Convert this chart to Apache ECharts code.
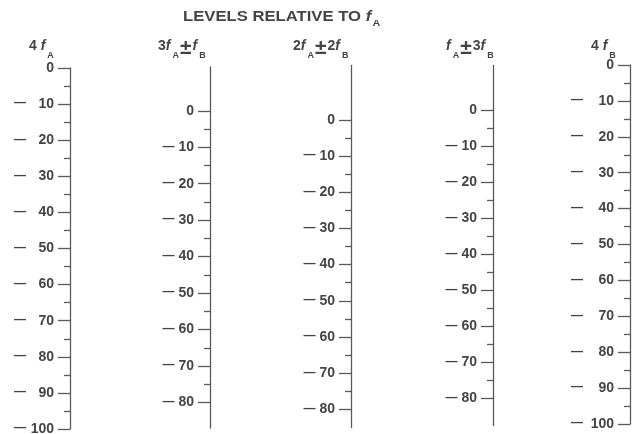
<!DOCTYPE html>
<html>
<head>
<meta charset="utf-8">
<script src="https://cdn.jsdelivr.net/npm/echarts@6/dist/echarts.min.js"></script>
<style>
  html, body { margin: 0; padding: 0; background: #ffffff; }
  #chart { width: 632px; height: 434px; }
</style>
</head>
<body>
<div id="chart"></div>
<script>
// Intermodulation level scales, in dB relative to fA
const titleText = '{t|LEVELS RELATIVE TO }{f|f}{s|A}';

const scaleHeaders = [
  '{n|4 }{f|f}{s|A}',
  '{n|3}{f|f}{s|A}{p|±}{f|f}{s|B}',
  '{n|2}{f|f}{s|A}{p|±}{n|2}{f|f}{s|B}',
  '{f|f}{s|A}{p|±}{n|3}{f|f}{s|B}',
  '{n|4 }{f|f}{s|B}'
];

// extent of each scale line (dB)
const scaleMax = [0, 12, 15, 12.5, 0];
const scaleMin = [-100, -87, -85, -87.5, -100];

// labelled (major) tick levels per scale
const major4fA   = [0, -10, -20, -30, -40, -50, -60, -70, -80, -90, -100];
const major3fAfB = [0, -10, -20, -30, -40, -50, -60, -70, -80];
const major2fA2fB = [0, -10, -20, -30, -40, -50, -60, -70, -80];
const majorfA3fB = [0, -10, -20, -30, -40, -50, -60, -70, -80];
const major4fB   = [0, -10, -20, -30, -40, -50, -60, -70, -80, -90, -100];

// unlabelled (minor) tick levels per scale
const minor4fA   = [-5, -15, -25, -35, -45, -55, -65, -75, -85, -95];
const minor3fAfB = [-5, -15, -25, -35, -45, -55, -65, -75];
const minor2fA2fB = [-5, -15, -25, -35, -45, -55, -65, -75];
const minorfA3fB = [-5, -15, -25, -35, -45, -55, -65, -75];
const minor4fB   = [-5, -15, -25, -35, -45, -55, -65, -75, -85, -95];

const majorTicks = [major4fA, major3fAfB, major2fA2fB, majorfA3fB, major4fB];
const minorTicks = [minor4fA, minor3fAfB, minor2fA2fB, minorfA3fB, minor4fB];

// layout of the five vertical scales
const scaleX = [70, 210, 351, 493, 630];
const scaleTop = [68, 67, 65.5, 65.5, 65];
const scaleHeight = [361, 361, 362, 360, 359];
const numberBox = [24, 0, 0, 0, 27];   // fixed digit column width (0 = none)
const headerLeft = [29, 158, 293, 446, 591];

const FONT = 'Liberation Sans, Arial, Helvetica, sans-serif';
const INK = '#444444';
const LINE = '#5a5a5a';

function levelFormatter(v) {
  if (v === 0) return '{n|0}';
  return '{d|—}{n|' + Math.abs(v) + '}';
}

const grids = [], xAxes = [], yAxes = [];
for (let i = 0; i < 5; i++) {
  grids.push({
    left: scaleX[i], top: scaleTop[i], width: 1, height: scaleHeight[i],
    containLabel: false, outerBoundsMode: 'none'
  });
  xAxes.push({ gridIndex: i, type: 'value', show: false, min: 0, max: 1 });
  const numStyle = { fontSize: 14, fontWeight: 'bold', fontFamily: FONT, color: INK };
  if (numberBox[i]) { numStyle.width = numberBox[i]; numStyle.align = 'right'; }
  yAxes.push({
    gridIndex: i, type: 'value', position: 'left',
    min: scaleMin[i], max: scaleMax[i],
    axisLine: { show: true, lineStyle: { color: LINE, width: 1.3 } },
    axisTick: { show: true, length: 12, customValues: majorTicks[i], lineStyle: { color: LINE, width: 1.3 } },
    axisLabel: {
      show: true, customValues: majorTicks[i], margin: 16,
      formatter: levelFormatter,
      rich: {
        d: { fontSize: 12, fontWeight: 'bold', fontFamily: FONT, color: INK, padding: [0, 4, 2, 0] },
        n: numStyle
      }
    },
    splitLine: { show: false }
  });
  yAxes.push({
    gridIndex: i, type: 'value', position: 'left',
    min: scaleMin[i], max: scaleMax[i],
    axisLine: { show: false },
    axisTick: { show: true, length: 6, customValues: minorTicks[i], lineStyle: { color: LINE, width: 1.3 } },
    axisLabel: { show: false },
    splitLine: { show: false }
  });
}

const headerRich = {
  n: { fontSize: 14, fontWeight: 'bold', fontFamily: FONT, fill: INK, verticalAlign: 'top' },
  f: { fontSize: 14, fontWeight: 'bold', fontStyle: 'italic', fontFamily: FONT, fill: INK, verticalAlign: 'top', padding: [0, 2, 0, 0] },
  s: { fontSize: 9, fontWeight: 'bold', fontFamily: FONT, fill: INK, height: 33, lineHeight: 16, verticalAlign: 'top' },
  p: { fontSize: 21, fontWeight: 'bold', fontFamily: FONT, fill: INK, height: 20, verticalAlign: 'top', padding: [0, 1, 0, 1] }
};

const graphics = [{
  type: 'text', x: 183, y: 10, scaleX: 1.19,
  style: {
    text: titleText, verticalAlign: 'top', fill: INK,
    rich: {
      t: { fontSize: 14, fontWeight: 'bold', fontFamily: FONT, fill: INK, verticalAlign: 'top' },
      f: { fontSize: 14, fontWeight: 'bold', fontStyle: 'italic', fontFamily: FONT, fill: INK, verticalAlign: 'top', padding: [0, 1, 0, 0] },
      s: { fontSize: 9, fontWeight: 'bold', fontFamily: FONT, fill: INK, height: 27, lineHeight: 16, verticalAlign: 'top' }
    }
  }
}];
for (let i = 0; i < 5; i++) {
  graphics.push({
    type: 'text', x: headerLeft[i], y: 38.7,
    style: { text: scaleHeaders[i], verticalAlign: 'top', fill: INK, rich: headerRich }
  });
}

const chart = echarts.init(document.getElementById('chart'), null, { renderer: 'canvas' });
chart.setOption({
  backgroundColor: '#ffffff',
  animation: false,
  grid: grids,
  xAxis: xAxes,
  yAxis: yAxes,
  graphic: graphics,
  series: []
});
</script>
</body>
</html>
